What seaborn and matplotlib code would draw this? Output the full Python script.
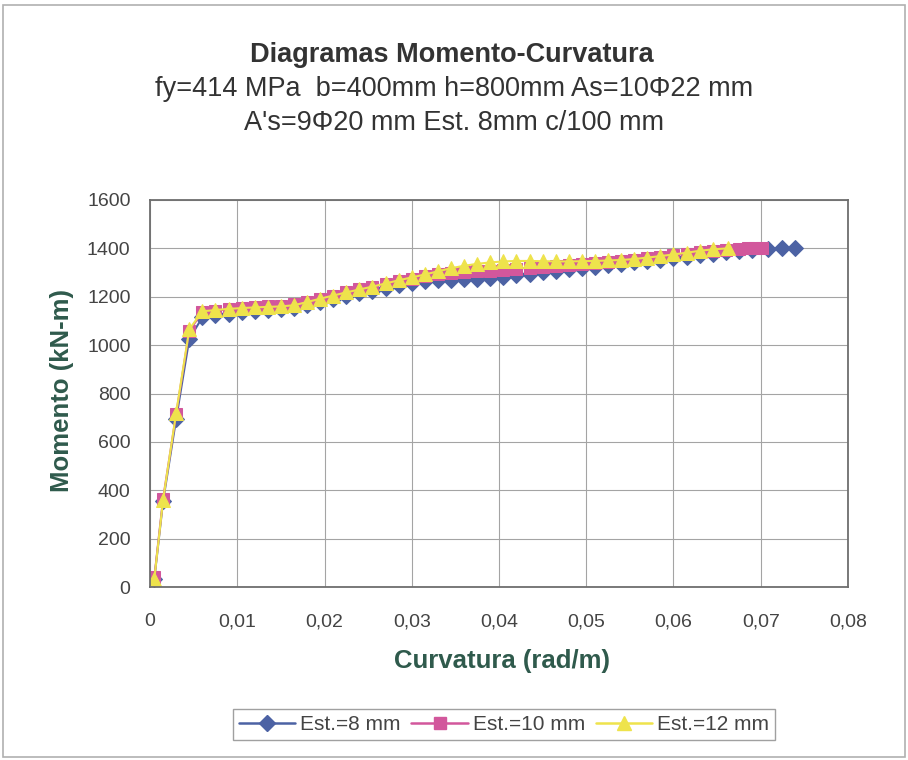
import numpy as np
import pandas as pd
import matplotlib.pyplot as plt
import seaborn as sns
from matplotlib.patches import Rectangle
from matplotlib.lines import Line2D

# Curvature (rad/m) and moment (kN-m)
curv_8 = [0.0005, 0.0015, 0.003, 0.0045, 0.006, 0.0075, 0.009, 0.0105, 0.012, 0.0135,
          0.015, 0.0165, 0.018, 0.0195, 0.021, 0.0225, 0.024, 0.0255, 0.027, 0.0285,
          0.030, 0.0315, 0.033, 0.0345, 0.036, 0.0375, 0.039, 0.0405, 0.042, 0.0435,
          0.045, 0.0465, 0.048, 0.0495, 0.051, 0.0525, 0.054, 0.0555, 0.057, 0.0585,
          0.060, 0.0615, 0.063, 0.0645, 0.066, 0.0675, 0.069, 0.0708, 0.0724, 0.0739]
mom_8 = [35, 355, 695, 1025, 1115, 1125, 1130, 1135, 1140, 1145,
         1148, 1155, 1165, 1180, 1192, 1205, 1215, 1225, 1238, 1248,
         1258, 1265, 1268, 1270, 1272, 1274, 1276, 1282, 1290, 1296,
         1302, 1308, 1314, 1320, 1325, 1330, 1336, 1342, 1348, 1354,
         1360, 1366, 1372, 1378, 1383, 1388, 1393, 1398, 1400, 1402]

curv_10 = [0.0005, 0.0015, 0.003, 0.0045, 0.006, 0.0075, 0.009, 0.0105, 0.012, 0.0135,
           0.015, 0.0165, 0.018, 0.0195, 0.021, 0.0225, 0.024, 0.0255, 0.027, 0.0285,
           0.030, 0.0315, 0.033, 0.0345, 0.036, 0.0375, 0.039, 0.0405, 0.042, 0.0435,
           0.045, 0.0465, 0.048, 0.0495, 0.051, 0.0525, 0.054, 0.0555, 0.057, 0.0585,
           0.060, 0.0615, 0.063, 0.0645, 0.066, 0.0675, 0.0685, 0.0693, 0.0701]
mom_10 = [40, 365, 715, 1060, 1135, 1142, 1148, 1152, 1156, 1160,
          1163, 1168, 1178, 1192, 1205, 1218, 1230, 1242, 1254, 1265,
          1275, 1285, 1293, 1298, 1302, 1305, 1308, 1312, 1316, 1320,
          1324, 1328, 1332, 1336, 1340, 1344, 1348, 1354, 1360, 1366,
          1372, 1378, 1384, 1390, 1395, 1398, 1400, 1400, 1401]

curv_12 = [0.0005, 0.0015, 0.003, 0.0045, 0.006, 0.0075, 0.009, 0.0105, 0.012, 0.0135,
           0.015, 0.0165, 0.018, 0.0195, 0.021, 0.0225, 0.024, 0.0255, 0.027, 0.0285,
           0.030, 0.0315, 0.033, 0.0345, 0.036, 0.0375, 0.039, 0.0405, 0.042, 0.0435,
           0.045, 0.0465, 0.048, 0.0495, 0.051, 0.0525, 0.054, 0.0555, 0.057, 0.0585,
           0.060, 0.0615, 0.063, 0.0645, 0.0662]
mom_12 = [35, 360, 720, 1065, 1140, 1145, 1150, 1153, 1156, 1158,
          1160, 1165, 1178, 1192, 1205, 1218, 1230, 1242, 1255, 1268,
          1280, 1292, 1305, 1318, 1328, 1336, 1342, 1346, 1348, 1348,
          1347, 1346, 1346, 1347, 1348, 1350, 1352, 1356, 1362, 1368,
          1375, 1382, 1390, 1396, 1400]

series_names = ["Est.=8 mm", "Est.=10 mm", "Est.=12 mm"]
colors = ["#4c62a4", "#d2579c", "#eee34c"]
markers = ["D", "s", "^"]
sizes = [8, 8.5, 10]

x_ticks = [0, 0.01, 0.02, 0.03, 0.04, 0.05, 0.06, 0.07, 0.08]
y_ticks = [0, 200, 400, 600, 800, 1000, 1200, 1400, 1600]

df = pd.concat([
    pd.DataFrame({"curv": curv_8, "mom": mom_8, "serie": series_names[0]}),
    pd.DataFrame({"curv": curv_10, "mom": mom_10, "serie": series_names[1]}),
    pd.DataFrame({"curv": curv_12, "mom": mom_12, "serie": series_names[2]}),
], ignore_index=True)

sns.set_style("white")
plt.rcParams["font.family"] = ["Liberation Sans", "DejaVu Sans"]

fig = plt.figure(figsize=(9.08, 7.6), dpi=100)
ax = fig.add_axes([150 / 908, 1 - 587 / 760, 698 / 908, 387 / 760])

# outer chart frame
fig.patches.append(Rectangle((3 / 908, 3 / 760), 902 / 908, 752 / 760,
                             transform=fig.transFigure, fill=False,
                             edgecolor="#b0b0b0", linewidth=1.2))

for name, col, mk, ms in zip(series_names, colors, markers, sizes):
    sub = df[df["serie"] == name]
    sns.lineplot(data=sub, x="curv", y="mom", ax=ax, color=col, marker=mk,
                 markersize=ms, markeredgecolor=col, linewidth=1.5,
                 estimator=None, sort=False, legend=False)

ax.set_xlim(0, 0.08)
ax.set_ylim(0, 1600)
ax.set_xticks(x_ticks)
ax.set_xticklabels([("%g" % t).replace(".", ",") for t in x_ticks])
ax.set_yticks(y_ticks)
ax.grid(True, color="#a4a4a4", linewidth=0.8)
for sp in ax.spines.values():
    sp.set_color("#6e6e6e")
    sp.set_linewidth(1.3)
ax.tick_params(axis="both", labelsize=14, colors="#555555", labelcolor="#444444",
               length=6, width=1, direction="inout")
ax.tick_params(axis="x", pad=16)
ax.tick_params(axis="y", pad=11)
ax.set_xlabel("")
ax.set_ylabel("")

label_col = "#2f5a4c"
fig.text(502 / 908, 1 - 661 / 760, "Curvatura (rad/m)", ha="center", va="center",
         fontsize=18.5, fontweight="bold", color=label_col)
fig.text(62 / 908, 1 - 391 / 760, "Momento (kN-m)", ha="center", va="center",
         rotation=90, fontsize=18.5, fontweight="bold", color=label_col)

fig.text(452 / 908, 1 - 55 / 760, "Diagramas Momento-Curvatura", ha="center", va="center",
         fontsize=19.5, fontweight="bold", color="#333333")
fig.text(454 / 908, 1 - 89 / 760, "fy=414 MPa  b=400mm h=800mm As=10Φ22 mm", ha="center",
         va="center", fontsize=19.5, color="#333333")
fig.text(454 / 908, 1 - 123 / 760, "A's=9Φ20 mm Est. 8mm c/100 mm", ha="center",
         va="center", fontsize=19.5, color="#333333")

handles = [Line2D([0], [0], color=c, marker=m, markersize=s, markeredgecolor=c, linewidth=1.8)
           for c, m, s in zip(colors, markers, sizes)]
leg = fig.legend(handles, series_names, loc="center", bbox_to_anchor=(504 / 908, 1 - 724.5 / 760),
                 ncol=3, frameon=True, fancybox=False, fontsize=15, handlelength=2.7,
                 columnspacing=0.5, handletextpad=0.25, borderpad=0.3, borderaxespad=0,
                 labelcolor="#444444")
leg.get_frame().set_edgecolor("#888888")
leg.get_frame().set_linewidth(1.0)

fig.savefig("out.png", dpi=100)
